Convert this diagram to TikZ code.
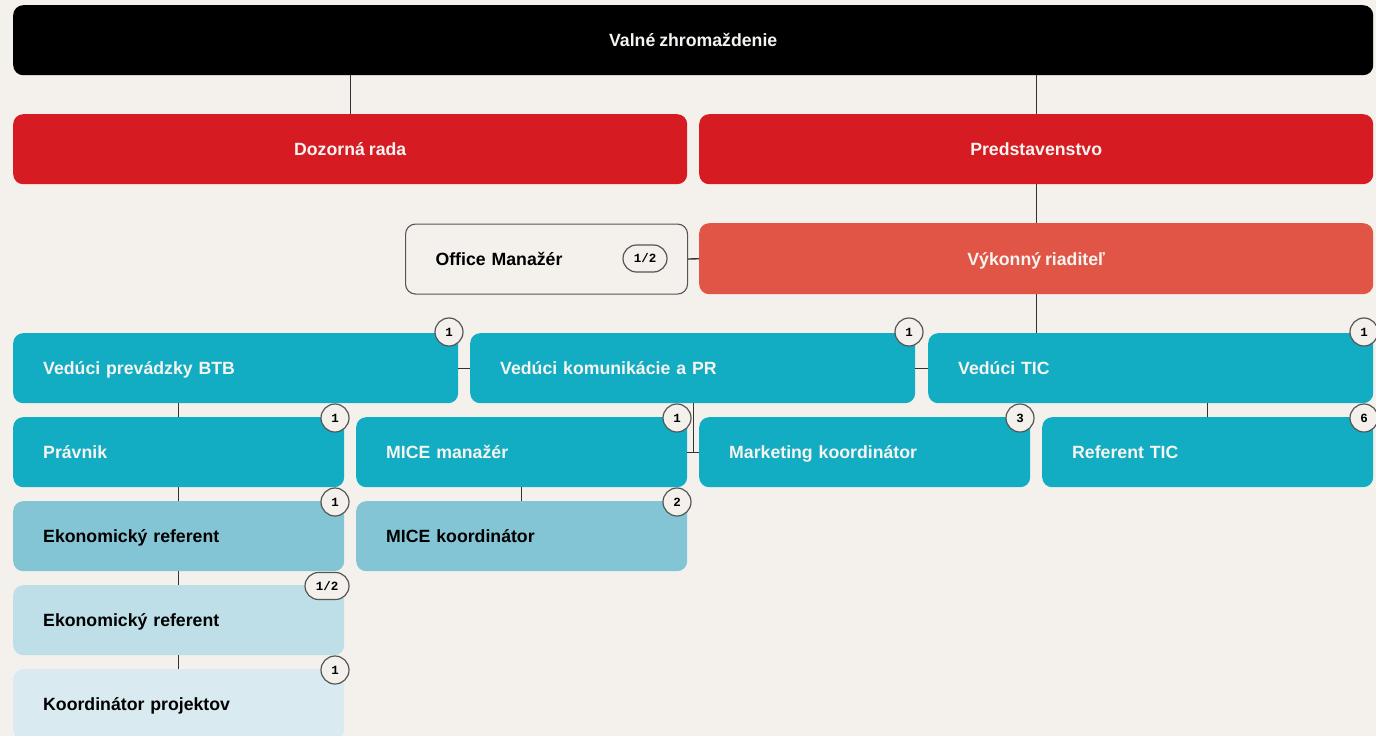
\documentclass[tikz,border=0pt]{standalone}
\usepackage{fontspec}
\setmainfont{Liberation Sans}[WordSpace=0.8]
\newfontfamily\badgefont{Liberation Mono}
\usetikzlibrary{calc}
\definecolor{bgc}{HTML}{F4F1EC}
\definecolor{redc}{HTML}{D71B23}
\definecolor{orangec}{HTML}{E05546}
\definecolor{tealc}{HTML}{12ACC3}
\definecolor{midc}{HTML}{84C5D5}
\definecolor{lightc}{HTML}{BEDFE8}
\definecolor{lightestc}{HTML}{D9EBF1}
\definecolor{whitec}{HTML}{F6F4F0}
\definecolor{linec}{HTML}{333333}
\definecolor{edgec}{HTML}{555555}
\begin{document}
\begin{tikzpicture}[x=1pt,y=-1pt,
  box/.style={rectangle, rounded corners=10pt, minimum height=70pt, inner ysep=0pt, anchor=north west,
    text height=12.6pt, text depth=0pt,
    font=\bfseries\fontsize{17.7}{20}\selectfont},
  cbox/.style={box, inner xsep=0pt, minimum width=#1},
  lbox/.style={box, inner xsep=30pt, text width=#1, align=left},
  badge/.style={circle, draw=edgec, line width=1.2pt, fill=bgc, minimum size=28pt, inner sep=0pt,
    font=\badgefont\bfseries\fontsize{12.5}{13}\selectfont},
  pill/.style={rectangle, rounded corners=13.5pt, draw=edgec, line width=1.2pt, fill=bgc, minimum width=44pt,
    minimum height=27pt, inner sep=0pt, font=\badgefont\bfseries\fontsize{12.5}{13}\selectfont},
  conn/.style={draw=linec, line width=1.4pt}]
\useasboundingbox (0,0) rectangle (1376,736);
\clip (0,0) rectangle (1376,736);
\fill[bgc] (0,0) rectangle (1376,736);

% boxes
\node[cbox=1360pt, fill=black, text=whitec] (vz) at (13,5) {Valné zhromaždenie};
\node[cbox=674pt, fill=redc, text=whitec] (dz) at (13,114) {Dozorná rada};
\node[cbox=674pt, fill=redc, text=whitec] (ps) at (699,114) {Predstavenstvo};
\node[lbox=222pt, draw=edgec, line width=1.1pt, fill=bgc, text=black, minimum height=70pt] (om) at (405,223.5) {Office Manažér};
\node[cbox=674pt, fill=orangec, text=whitec, minimum height=71pt] (vr) at (699,223) {Výkonný riaditeľ};

\node[lbox=385pt, fill=tealc, text=whitec] (btb) at (13,333) {Vedúci prevádzky BTB};
\node[lbox=385pt, fill=tealc, text=whitec] (pr) at (470,333) {Vedúci komunikácie a PR};
\node[lbox=385pt, fill=tealc, text=whitec] (tic) at (928,333) {Vedúci TIC};

\node[lbox=271pt, fill=tealc, text=whitec] (pravnik) at (13,417) {Právnik};
\node[lbox=271pt, fill=tealc, text=whitec] (mice) at (356,417) {MICE manažér};
\node[lbox=271pt, fill=tealc, text=whitec] (mk) at (699,417) {Marketing koordinátor};
\node[lbox=271pt, fill=tealc, text=whitec] (rt) at (1042,417) {Referent TIC};

\node[lbox=271pt, fill=midc, text=black] (er1) at (13,501) {Ekonomický referent};
\node[lbox=271pt, fill=midc, text=black] (mk2) at (356,501) {MICE koordinátor};
\node[lbox=271pt, fill=lightc, text=black] (er2) at (13,585) {Ekonomický referent};
\node[lbox=271pt, fill=lightestc, text=black] (kp) at (13,669) {Koordinátor projektov};

% connectors
\draw[conn] (dz.north) -- (dz.north |- vz.south);
\draw[conn] (ps.north) -- (ps.north |- vz.south);
\draw[conn] (vr.north) -- (ps.south);
\draw[conn] (om.east) -- (vr.west);
\draw[conn] (vr.south) -- (vr.south |- tic.north);
\draw[conn] (btb.east) -- (pr.west);
\draw[conn] (pr.east) -- (tic.west);
\draw[conn] (pravnik.north) -- (pravnik.north |- btb.south);
\draw[conn] (rt.north) -- (rt.north |- tic.south);
\coordinate (prj) at ($(mice.east)!0.5!(mk.west)$);
\draw[conn] (mice.east) -- (mk.west);
\draw[conn] (prj) -- (prj |- pr.south);
\draw[conn] (mk2.north) -- (mice.south);
\draw[conn] (er1.north) -- (pravnik.south);
\draw[conn] (er2.north) -- (er1.south);
\draw[conn] (kp.north) -- (er2.south);

% badges
\node[pill] (bom) at (645,258.5) {1/2};
\node[badge] (bbtb) at (449,332) {1};
\node[badge] (bpr) at (909,332) {1};
\node[badge] (btic) at (1364,332) {1};
\node[badge] (bprav) at (335,418) {1};
\node[badge] (bmice) at (677,418) {1};
\node[badge] (bmk) at (1020,418) {3};
\node[badge] (brt) at (1364,418) {6};
\node[badge] (ber1) at (335,502) {1};
\node[badge] (bmk2) at (677,502) {2};
\node[pill] (ber2) at (327,586) {1/2};
\node[badge] (bkp) at (335,670) {1};
\end{tikzpicture}
\end{document}
